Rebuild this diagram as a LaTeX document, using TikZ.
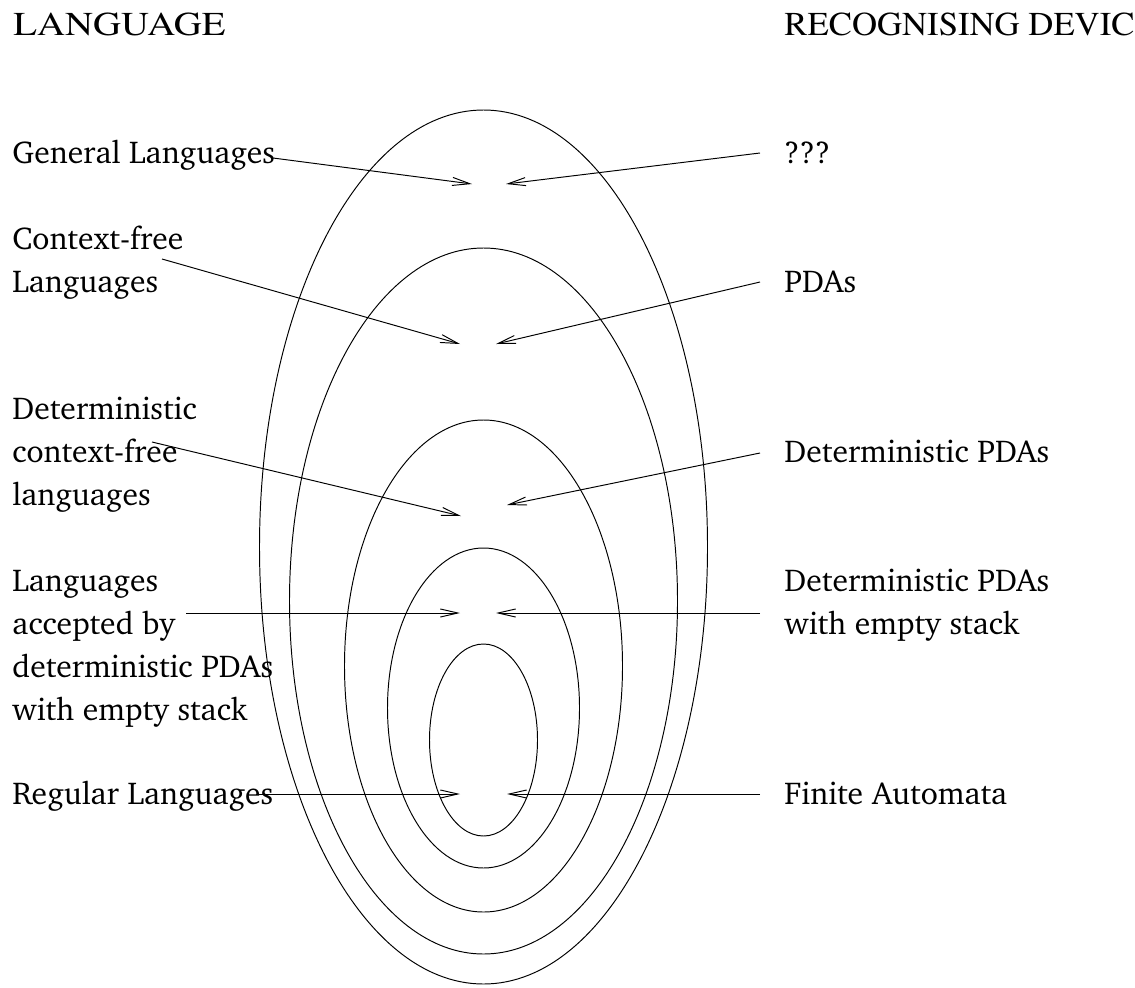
\documentclass[tikz,border=0pt]{standalone}
\usepackage[T1]{fontenc}
\usepackage{charter}
\usetikzlibrary{arrows.meta}
\tikzset{
  every picture/.style={line width=0.55pt},
  ring/.style={draw,line width=0.55pt},
  pointer/.style={draw,line width=0.55pt,
    -{Straight Barb[length=10pt,width=4.6pt,line width=0.55pt]}},
  class/.style={inner sep=0pt,anchor=base west,align=left,
    font=\fontsize{18}{24.4}\selectfont},
  heading/.style={inner sep=0pt,anchor=base west,
    font=\fontfamily{ptm}\fontsize{19}{22}\selectfont},
}

\begin{document}
\begin{tikzpicture}[x=0.02cm,y=-0.02cm]
  \path[use as bounding box] (0,0) rectangle (1135,987);
  % nested classes: general, context-free, deterministic, empty stack, regular
  \foreach \cy/\rx/\ry in {547/224/437,601/194/353,666/139/246,708/96/160,740/54/96}
    {\draw[ring] (483.5,\cy) ellipse[x radius=\rx,y radius=\ry];}
  \node[heading] (lang) at (13,35) {\scalebox{1.16}[1]{LANGUAGE}};
  \node[heading] (dev) at (784,35) {\scalebox{1.04}[1]{RECOGNISING DEVIC}};
  % language classes on the left (base = last line)
  \node[class] (general) at (12,163) {General Languages};
  \node[class] (cfl) at (12,292) {Context-free\\Languages};
  \node[class] (dcfl) at (12,505) {Deterministic\\context-free\\languages};
  \node[class] (empty) at (12,720) {Languages\\accepted by\\deterministic PDAs\\with empty stack};
  \node[class] (regular) at (12,804) {Regular Languages};
  % machines on the right
  \node[class] (tm) at (784,163) {???};
  \node[class] (pda) at (784,292) {PDAs};
  \node[class] (dpda) at (784,462) {Deterministic PDAs};
  \node[class] (epda) at (784,634) {Deterministic PDAs\\with empty stack};
  \node[class] (fa) at (784,804) {Finite Automata};
  \coordinate (generalL) at (273,158);  \coordinate (generalT) at (472,184);
  \coordinate (tmR) at (760,153);       \coordinate (tmT) at (506,184);
  \coordinate (cflL) at (162,259);      \coordinate (cflT) at (460,344);
  \coordinate (pdaR) at (760,282);      \coordinate (pdaT) at (496,344);
  \coordinate (dcflL) at (152,442);     \coordinate (dcflT) at (461,516);
  \coordinate (dpdaR) at (760,453);     \coordinate (dpdaT) at (507,505);
  \coordinate (emptyL) at (186,613);    \coordinate (emptyT) at (460,613);
  \coordinate (epdaR) at (760,613);     \coordinate (epdaT) at (496,613);
  \coordinate (regularL) at (256,794);  \coordinate (regularT) at (460,794);
  \coordinate (faR) at (760,794);       \coordinate (faT) at (507,794);
  \foreach \s/\t in {generalL/generalT,tmR/tmT,cflL/cflT,pdaR/pdaT,dcflL/dcflT,
    dpdaR/dpdaT,emptyL/emptyT,epdaR/epdaT,regularL/regularT,faR/faT}
    {\draw[pointer] (\s) -- (\t);}
\end{tikzpicture}
\end{document}
